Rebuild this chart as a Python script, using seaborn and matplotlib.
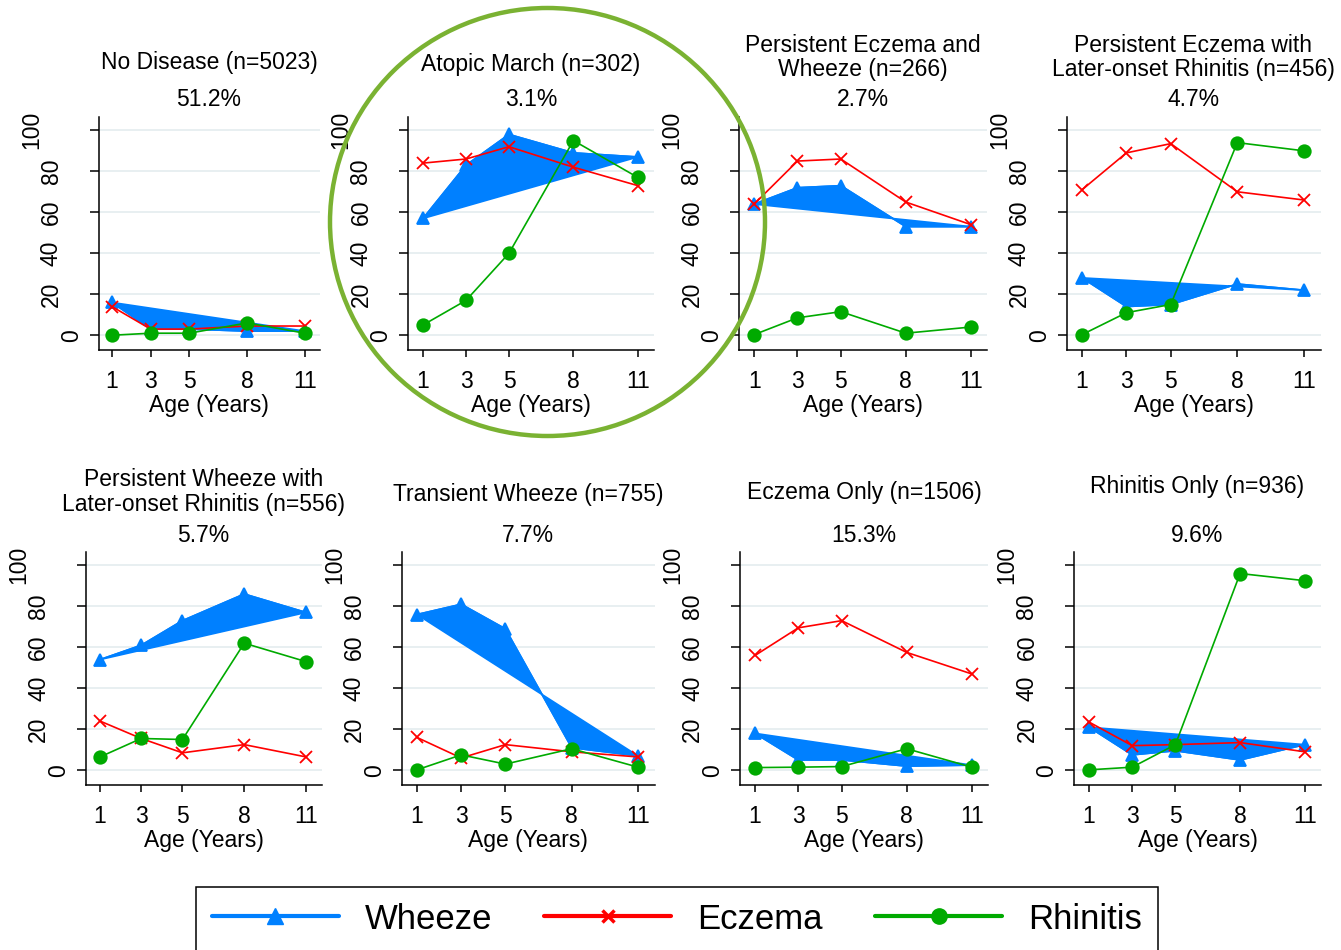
import numpy as np
import pandas as pd
import matplotlib
matplotlib.use("Agg")
import matplotlib.pyplot as plt
import seaborn as sns
from matplotlib.lines import Line2D
from matplotlib.patches import Ellipse
from matplotlib.transforms import ScaledTranslation

# ---------------- data ----------------
ages = [1, 3, 5, 8, 11]
age_labels = ["1", "3", "5", "8", "11"]
y_ticks = [0, 20, 40, 60, 80, 100]

titles = [
    "No Disease (n=5023)",
    "Atopic March (n=302)",
    "Persistent Eczema and\nWheeze (n=266)",
    "Persistent Eczema with\nLater-onset Rhinitis (n=456)",
    "Persistent Wheeze with\nLater-onset Rhinitis (n=556)",
    "Transient Wheeze (n=755)",
    "Eczema Only (n=1506)",
    "Rhinitis Only (n=936)",
]
percents = ["51.2%", "3.1%", "2.7%", "4.7%", "5.7%", "7.7%", "15.3%", "9.6%"]

wheeze = [
    [16, 3, 3, 2, 2],
    [57, 83, 98, 89, 87],
    [64, 72, 73, 53, 53],
    [28, 14, 15, 25, 22],
    [54, 61, 73, 86, 77],
    [76, 81, 69, 11, 7],
    [18, 5, 5, 2, 2.5],
    [21, 7.5, 9.5, 5, 12.5],
]
eczema = [
    [14, 3, 3, 4.5, 4.5],
    [84, 86, 92, 82, 73],
    [64, 85, 86, 65, 54],
    [71, 89, 93.5, 70, 66],
    [24, 15.5, 8.5, 12.5, 6.5],
    [16, 6, 12.5, 9, 6.5],
    [56, 69.5, 73, 57.5, 47],
    [23.5, 12, 12.5, 13.5, 9],
]
rhinitis = [
    [0, 1, 1, 6, 1],
    [5, 17, 40, 95, 77],
    [0.3, 8.5, 11.5, 1, 4],
    [0.3, 11, 15, 94, 90],
    [6.5, 15.5, 15, 62, 53],
    [0.2, 7.5, 3, 10.5, 1.5],
    [1.3, 1.5, 1.8, 10.5, 1.5],
    [0.2, 1.5, 12.5, 96, 92.5],
]
series_names = ["Wheeze", "Eczema", "Rhinitis"]

# ---------------- style ----------------
BLUE = "#0080FF"
RED = "#FF0000"
GREEN = "#00AA00"
GRID = "#E6EEF0"
colors = {"Wheeze": BLUE, "Eczema": RED, "Rhinitis": GREEN}
markers = {"Wheeze": "^", "Eczema": "x", "Rhinitis": "o"}
msize = {"Wheeze": 9, "Eczema": 8, "Rhinitis": 9}

sns.set_theme(style="white")
plt.rcParams["font.family"] = ["Liberation Sans", "DejaVu Sans"]
for k in ["text.color", "axes.labelcolor", "xtick.color", "ytick.color"]:
    plt.rcParams[k] = "black"

W, H = 1341, 950
fig = plt.figure(figsize=(W / 100, H / 100), dpi=100)

# axes placement in pixels (left, right) per panel
xspans = [(98.5, 319.5), (408, 654), (739, 987), (1066.5, 1320.5),
          (85.6, 321.5), (401.5, 654.6), (739.8, 988), (1074, 1321)]
row_tb = [(117, 350), (552, 785)]
title_y = [63, 64, 57.5, 57.5, 492, 494, 492, 487]
pct_y = [100, 100, 100, 100, 535, 535, 535, 535]

FS = 16.5
for i in range(8):
    l, r = xspans[i]
    t, b = row_tb[i // 4]
    ax = fig.add_axes([l / W, 1 - b / H, (r - l) / W, (b - t) / H])

    df = pd.DataFrame({
        "age": ages * 3,
        "value": wheeze[i] + eczema[i] + rhinitis[i],
        "series": sum([[s] * len(ages) for s in series_names], []),
    })

    # wheeze as a filled polygon (Stata area look)
    wd = df[df.series == "Wheeze"]
    ax.fill(wd["age"], wd["value"], color=BLUE, lw=1.2, zorder=2)
    for z, s in enumerate(series_names):
        sd = df[df.series == s]
        sns.lineplot(data=sd, x="age", y="value", ax=ax, color=colors[s],
                     marker=markers[s], markersize=msize[s],
                     markeredgecolor=colors[s], markeredgewidth=1.3,
                     lw=1.2, sort=False, legend=False, zorder=3 + z)

    ax.set_xlim(0.3, 11.75)
    ax.set_ylim(-7.2, 106.5)
    ax.set_xticks(ages)
    ax.set_xticklabels(age_labels, fontsize=FS)
    ax.set_yticks(y_ticks)
    ax.set_yticklabels([str(v) for v in y_ticks], fontsize=FS)
    ax.set_xlabel("Age (Years)", fontsize=FS, labelpad=0.5)
    ax.set_ylabel("")
    ax.grid(axis="y", color=GRID, lw=1.3, zorder=0)
    ax.set_axisbelow(True)
    for sp in ["top", "right"]:
        ax.spines[sp].set_visible(False)
    for sp in ["left", "bottom"]:
        ax.spines[sp].set_color("black")
        ax.spines[sp].set_linewidth(1.1)
    ax.tick_params(axis="x", direction="out", length=5, width=1.1,
                   color="black", pad=9.5, bottom=True)
    ax.tick_params(axis="y", direction="out", length=6.5, width=1.1,
                   color="black", pad=0, left=True)
    for lab in ax.get_yticklabels():
        txt = lab.get_text()
        lab.set_rotation(90)
        lab.set_ha("center")
        lab.set_va("center")
        dx = (-(7 + 20 * len(txt)) + 9) / 100.0
        lab.set_transform(lab.get_transform() +
                          ScaledTranslation(dx, 0, fig.dpi_scale_trans))

    cx = (l + r) / 2 / W
    fig.text(cx, 1 - title_y[i] / H, titles[i], ha="center", va="center",
             fontsize=FS, linespacing=1.07)
    fig.text(cx, 1 - pct_y[i] / H, percents[i], ha="center", va="center",
             fontsize=FS)

# highlight circle around Atopic March
fig.add_artist(Ellipse((547.5 / W, 1 - 222 / H), 435 / W, 428 / H,
                       transform=fig.transFigure, fill=False,
                       edgecolor="#7AB232", lw=3.2))

# legend
handles = [
    Line2D([], [], color=BLUE, lw=3, marker="^", markersize=11),
    Line2D([], [], color=RED, lw=3, marker="x", markersize=8, markeredgewidth=2.5),
    Line2D([], [], color=GREEN, lw=3, marker="o", markersize=11),
]
leg = fig.legend(handles, series_names, loc="upper left",
                 bbox_to_anchor=(196 / W, 1 - 887 / H), ncol=3,
                 fontsize=25, frameon=True, fancybox=False, shadow=False,
                 framealpha=1, edgecolor="black", borderpad=0.45,
                 handlelength=3.66, handletextpad=0.75, columnspacing=1.5,
                 borderaxespad=0)
leg.get_frame().set_linewidth(1.1)

fig.savefig("out.png", dpi=100)
